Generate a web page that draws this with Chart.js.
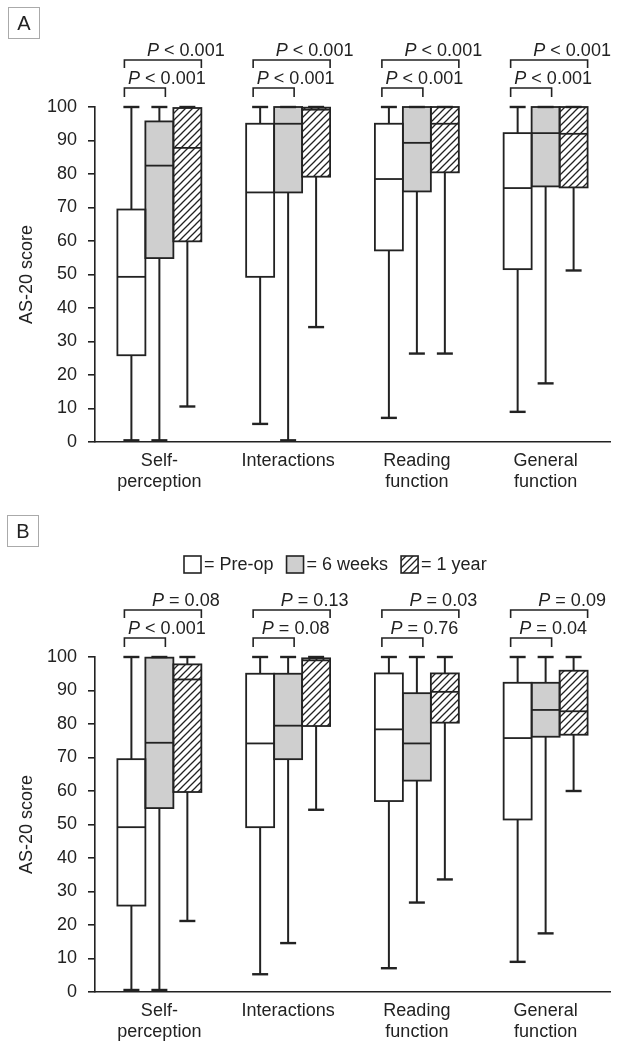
<!DOCTYPE html>
<html>
<head>
<meta charset="utf-8">
<script src="https://cdn.jsdelivr.net/npm/chart.js@4.4.1/dist/chart.umd.min.js"></script>
<style>
  body { margin: 0; background: #fff; }
  .panel { position: relative; width: 620px; }
  .tag {
    position: absolute;
    width: 30px;
    height: 30px;
    border: 1px solid #aaa;
    font: 20px "Liberation Sans", Arial, sans-serif;
    color: #222;
    text-align: center;
    line-height: 31px;
  }
</style>
</head>
<body>

<div class="panel" style="height:500px">
  <canvas id="chart-a"></canvas>
  <div class="tag" style="left:8px;top:7px">A</div>
</div>

<div class="panel" style="height:550px">
  <canvas id="chart-b"></canvas>
  <div class="tag" style="left:7px;top:15px">B</div>
</div>

<script>
const categories = [
  ["Self-", "perception"],
  "Interactions",
  ["Reading", "function"],
  ["General", "function"]
];

const groups = ["Pre-op", "6 weeks", "1 year"];

// each entry: [min, q1, median, q3, max]
const preopA = [[0.5, 25.9, 49.3, 69.4, 100], [5.4, 49.3, 74.5, 95, 100], [7.2, 57.2, 78.5, 95, 100], [9, 51.6, 75.8, 92.2, 100]];
const weeksA = [[0.5, 54.9, 82.5, 95.7, 100], [0.5, 74.5, 95, 100, 100], [26.4, 74.8, 89.3, 100, 100], [17.5, 76.3, 92.2, 100, 100]];
const yearA = [[10.6, 59.9, 87.8, 99.7, 100], [34.3, 79.2, 99.2, 99.8, 100], [26.4, 80.5, 95, 100, 100], [51.2, 76, 92, 100, 100]];

const preopB = [[0.6, 25.8, 49.2, 69.5, 100], [5.3, 49.2, 74.2, 95, 100], [7.1, 57, 78.4, 95.1, 100], [9, 51.5, 75.8, 92.3, 100]];
const weeksB = [[0.6, 54.9, 74.4, 99.8, 100], [14.6, 69.5, 79.5, 95, 100], [26.7, 63.1, 74.2, 89.2, 100], [17.5, 76.2, 84.2, 92.3, 100]];
const yearB = [[21.2, 59.7, 93.3, 97.8, 100], [54.4, 79.4, 99, 99.6, 100], [33.6, 80.4, 89.6, 95.1, 100], [60, 76.8, 83.8, 95.9, 100]];

const pLowerA = ["< 0.001", "< 0.001", "< 0.001", "< 0.001"];
const pUpperA = ["< 0.001", "< 0.001", "< 0.001", "< 0.001"];
const pLowerB = ["< 0.001", "= 0.08", "= 0.76", "= 0.04"];
const pUpperB = ["= 0.08", "= 0.13", "= 0.03", "= 0.09"];

const FONT = "'Liberation Sans', Arial, sans-serif";
const INK = "#222";

function hatchPattern() {
  const c = document.createElement("canvas");
  c.width = 7;
  c.height = 7;
  const g = c.getContext("2d");
  g.fillStyle = "#fff";
  g.fillRect(0, 0, 7, 7);
  g.strokeStyle = INK;
  g.lineWidth = 1.3;
  g.beginPath();
  g.moveTo(-1, 8); g.lineTo(8, -1);
  g.moveTo(-1, 1); g.lineTo(1, -1);
  g.moveTo(6, 8); g.lineTo(8, 6);
  g.stroke();
  return g.createPattern(c, "repeat");
}

const fills = ["#ffffff", "#cfcfcf", hatchPattern()];

function line(ctx, x1, y1, x2, y2) {
  ctx.beginPath();
  ctx.moveTo(x1, y1);
  ctx.lineTo(x2, y2);
  ctx.stroke();
}

// whiskers, box outlines, medians and caps
const boxPlot = {
  id: "boxPlot",
  afterDatasetsDraw(chart) {
    const ctx = chart.ctx;
    const y = chart.scales.y;
    ctx.save();
    ctx.strokeStyle = INK;
    chart.data.datasets.forEach(function(ds, di) {
      chart.getDatasetMeta(di).data.forEach(function(bar, i) {
        const s = ds.stats[i];
        const half = bar.width / 2;
        const yMin = y.getPixelForValue(s[0]);
        const yQ1 = y.getPixelForValue(s[1]);
        const yMed = y.getPixelForValue(s[2]);
        const yQ3 = y.getPixelForValue(s[3]);
        const yMax = y.getPixelForValue(s[4]);

        ctx.lineWidth = 2;
        line(ctx, bar.x, yQ3, bar.x, yMax);
        line(ctx, bar.x, yQ1, bar.x, yMin);
        ctx.lineWidth = 2.4;
        line(ctx, bar.x - 8, yMax, bar.x + 8, yMax);
        line(ctx, bar.x - 8, yMin, bar.x + 8, yMin);

        ctx.lineWidth = 1.8;
        ctx.strokeRect(bar.x - half, yQ3, bar.width, yQ1 - yQ3);
        line(ctx, bar.x - half, yMed, bar.x + half, yMed);
      });
    });
    ctx.restore();
  }
};

function drawP(ctx, text, cx, baseline) {
  const rest = " " + text;
  ctx.font = "italic 18px " + FONT;
  const wP = ctx.measureText("P").width;
  ctx.font = "18px " + FONT;
  const wRest = ctx.measureText(rest).width;
  const x0 = cx - (wP + wRest) / 2;
  ctx.textAlign = "left";
  ctx.textBaseline = "alphabetic";
  ctx.font = "italic 18px " + FONT;
  ctx.fillText("P", x0, baseline);
  ctx.font = "18px " + FONT;
  ctx.fillText(rest, x0 + wP, baseline);
}

const pBrackets = {
  id: "pBrackets",
  afterDraw(chart, args, opts) {
    const ctx = chart.ctx;
    const top = chart.chartArea.top;
    const first = chart.getDatasetMeta(0).data;
    const mid = chart.getDatasetMeta(1).data;
    const last = chart.getDatasetMeta(2).data;
    ctx.save();
    ctx.strokeStyle = INK;
    ctx.fillStyle = INK;
    ctx.lineWidth = 1.6;
    first.forEach(function(bar, i) {
      const left = bar.x - 7;
      const rightLow = mid[i].x + 6;
      const rightHigh = last[i].x + 14;

      ctx.beginPath();
      ctx.moveTo(left, top - 10);
      ctx.lineTo(left, top - 19);
      ctx.lineTo(rightLow, top - 19);
      ctx.lineTo(rightLow, top - 10);
      ctx.stroke();
      drawP(ctx, opts.lower[i], (left + rightLow) / 2 + 22, top - 23);

      ctx.beginPath();
      ctx.moveTo(left, top - 39);
      ctx.lineTo(left, top - 47);
      ctx.lineTo(rightHigh, top - 47);
      ctx.lineTo(rightHigh, top - 39);
      ctx.stroke();
      drawP(ctx, opts.upper[i], (left + rightHigh) / 2 + 23, top - 51);
    });
    ctx.restore();
  }
};

const keyBoxes = {
  id: "keyBoxes",
  afterDraw(chart, args, opts) {
    if (!opts.show) {
      return;
    }
    const ctx = chart.ctx;
    let x = 184;
    const yTop = 56;
    ctx.save();
    ctx.font = "18px " + FONT;
    ctx.textBaseline = "middle";
    ctx.textAlign = "left";
    groups.forEach(function(name, i) {
      ctx.fillStyle = fills[i];
      ctx.fillRect(x, yTop, 17, 17);
      ctx.strokeStyle = INK;
      ctx.lineWidth = 1.6;
      ctx.strokeRect(x, yTop, 17, 17);
      ctx.fillStyle = INK;
      const label = "= " + name;
      ctx.fillText(label, x + 20, yTop + 9);
      x += 20 + ctx.measureText(label).width + 13;
    });
    ctx.restore();
  }
};

function renderPanel(id, series, pLower, pUpper, topPad, showKey) {

  const ctx = document.getElementById(id);

  new Chart(ctx, {

    type: "bar",

    data: {
      labels: categories,
      datasets: series.map(function(stats, i) {
        return {
          label: groups[i],
          data: stats.map(function(s) {
            return [s[1], s[3]];
          }),
          stats: stats,
          backgroundColor: fills[i],
          borderWidth: 0,
          barPercentage: 1,
          categoryPercentage: 0.652
        };
      })
    },

    plugins: [boxPlot, pBrackets, keyBoxes],

    options: {
      responsive: true,
      maintainAspectRatio: false,
      animation: false,
      events: [],

      layout: {
        padding: { left: 0, right: 10, top: topPad, bottom: 0 }
      },

      plugins: {
        legend: { display: false },
        tooltip: { enabled: false },
        pBrackets: { lower: pLower, upper: pUpper },
        keyBoxes: { show: showKey }
      },

      scales: {
        x: {
          grid: { display: false, drawTicks: false },
          border: { display: true, color: INK, width: 1.6 },
          ticks: {
            padding: 8,
            color: INK,
            font: { size: 18, family: FONT }
          },
          afterFit: function(scale) {
            scale.height = 58;
          }
        },
        y: {
          min: 0,
          max: 100,
          grid: {
            drawOnChartArea: false,
            drawTicks: true,
            tickLength: 7,
            color: INK,
            lineWidth: 1.6
          },
          border: { display: true, color: INK, width: 1.6 },
          ticks: {
            stepSize: 10,
            padding: 11,
            color: INK,
            font: { size: 18, family: FONT }
          },
          title: {
            display: true,
            text: "AS-20 score",
            color: INK,
            padding: { top: 16, bottom: 0 },
            font: { size: 18, family: FONT }
          },
          afterFit: function(scale) {
            scale.width = 95;
          }
        }
      }
    }
  });
}

renderPanel("chart-a", [preopA, weeksA, yearA], pLowerA, pUpperA, 107, false);
renderPanel("chart-b", [preopB, weeksB, yearB], pLowerB, pUpperB, 157, true);
</script>
</body>
</html>
